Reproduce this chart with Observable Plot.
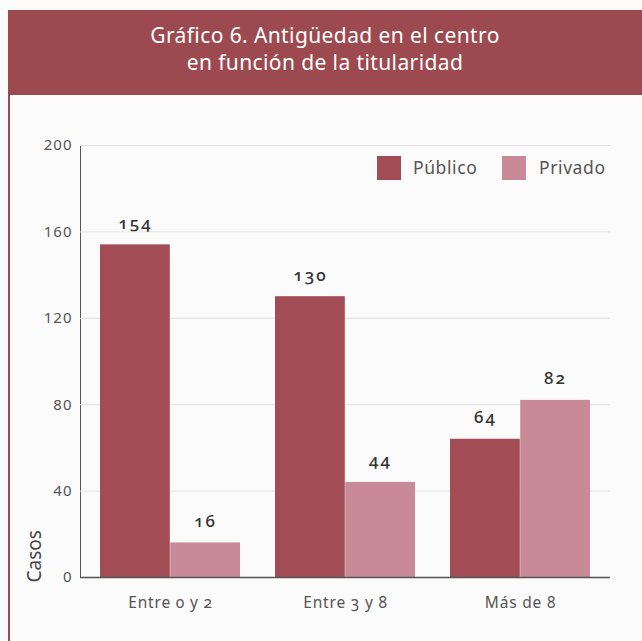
<!DOCTYPE html>
<html>
<head>
<meta charset="utf-8">
<script src="https://cdn.jsdelivr.net/npm/d3@7"></script>
<script src="https://cdn.jsdelivr.net/npm/@observablehq/plot@0.6"></script>
<style>
  html, body { margin: 0; padding: 0; background: #fbfbfb; width: 642px; height: 641px; overflow: hidden; }
  body { position: relative; font-family: "Noto Sans", "Open Sans", sans-serif; }
  #header { position: absolute; left: 8px; top: 10px; width: 634px; height: 85px; background: #9c4a50;
    color: #fff; text-align: center; font-size: 21px; line-height: 27px; box-sizing: border-box; padding-top: 12px; letter-spacing: 0.4px; font-weight: 400; }
  #border { position: absolute; left: 8px; top: 95px; width: 2px; height: 546px; background: #9c4a50; }
  #chart { position: absolute; left: 0; top: 95px; }
  #legend { position: absolute; top: 156px; left: 0; height: 24px; }
  .sw { position: absolute; top: 0; width: 24px; height: 24px; }
  .lt { position: absolute; top: -1px; font-size: 17.5px; line-height: 24px; color: #555; letter-spacing: 0.6px; }
</style>
</head>
<body>
<div id="header">Gráfico 6. Antigüedad en el centro<br>en función de la titularidad</div>
<div id="chart"></div>
<div id="border"></div>
<div id="legend"></div>
<script>
const groups = ["Entre 0 y 2", "Entre 3 y 8", "Más de 8"];
const publico = [154, 130, 64];
const privado = [16, 44, 82];
const series = ["Público", "Privado"];
const colors = ["#a24c55", "#c98a98"];
const yTicks = [0, 40, 80, 120, 160, 200];
const yLabel = "Casos";

const W = 642, H = 546, mL = 80, mR = 32, mT = 50, mB = 64;
const pInner = 0.2, pOuter = 0.11;
const bw = d3.scaleBand().domain(groups).range([mL, W - mR]).paddingInner(pInner).paddingOuter(pOuter).bandwidth();

const rowsPub = groups.map((g, i) => ({group: g, value: publico[i]}));
const rowsPriv = groups.map((g, i) => ({group: g, value: privado[i]}));

const chart = Plot.plot({
  width: W, height: H,
  marginLeft: mL, marginRight: mR, marginTop: mT, marginBottom: mB,
  style: {background: "transparent", color: "#555", fontFamily: "'Noto Sans', 'Open Sans', sans-serif", fontSize: "14.5px", fontVariantNumeric: "oldstyle-nums"},
  x: {domain: groups, paddingInner: pInner, paddingOuter: pOuter, tickSize: 0, tickPadding: 19, label: null},
  y: {domain: [0, 200], ticks: yTicks, tickSize: 0, tickPadding: 8, label: null, line: true},
  marks: [
    Plot.ruleY(yTicks, {stroke: "#e2e2e2", strokeWidth: 1}),
    Plot.barY(rowsPub, {x: "group", y: "value", fill: colors[0], insetRight: bw / 2}),
    Plot.barY(rowsPriv, {x: "group", y: "value", fill: colors[1], insetLeft: bw / 2}),
    Plot.text(rowsPub, {x: "group", y: "value", text: d => String(d.value), dx: -bw / 4, dy: -16, lineAnchor: "bottom", fill: "#333", fontSize: 17, fontWeight: 500}),
    Plot.text(rowsPriv, {x: "group", y: "value", text: d => String(d.value), dx: bw / 4, dy: -16, lineAnchor: "bottom", fill: "#333", fontSize: 17, fontWeight: 500}),
    Plot.ruleY([0], {stroke: "#555", strokeWidth: 1.5}),
    Plot.text([yLabel], {frameAnchor: "bottom-left", text: d => d, rotate: -90, textAnchor: "start", dx: -40, dy: 5, fill: "#444", fontSize: 19})
  ]
});
chart.querySelectorAll('g[font-size="17"]').forEach(g => g.setAttribute("letter-spacing", "2"));
chart.querySelectorAll('g[aria-label="x-axis tick label"]').forEach(g => { g.setAttribute("font-size", "15.5"); g.setAttribute("letter-spacing", "0.8"); });
chart.querySelectorAll('g[aria-label="y-axis tick label"]').forEach(g => { g.setAttribute("font-size", "15"); g.setAttribute("letter-spacing", "1"); });
document.getElementById("chart").appendChild(chart);

// legend
const legend = document.getElementById("legend");
const swX = [377, 502], txX = [413, 539];
series.forEach((s, i) => {
  const sw = document.createElement("div");
  sw.className = "sw"; sw.style.left = swX[i] + "px"; sw.style.background = colors[i];
  legend.appendChild(sw);
  const t = document.createElement("div");
  t.className = "lt"; t.style.left = txX[i] + "px"; t.textContent = s;
  legend.appendChild(t);
});
</script>
</body>
</html>
